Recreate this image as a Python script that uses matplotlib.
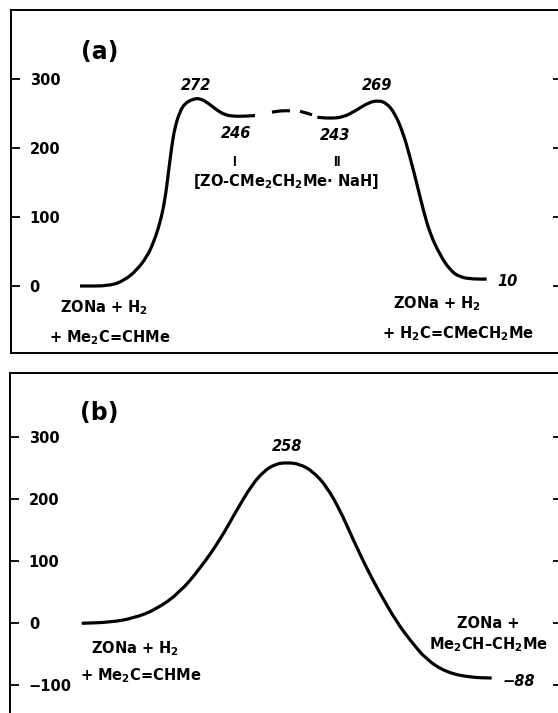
import matplotlib
matplotlib.use("Agg")
import matplotlib.pyplot as plt
from matplotlib.path import Path
from matplotlib.patches import PathPatch
import numpy as np

plt.rcParams['font.family'] = ['DejaVu Sans']
plt.rcParams['mathtext.fontset'] = 'custom'
plt.rcParams['mathtext.rm'] = 'DejaVu Sans:bold'
plt.rcParams['mathtext.it'] = 'DejaVu Sans:bold:italic'
plt.rcParams['mathtext.bf'] = 'DejaVu Sans:bold'
plt.rcParams['mathtext.default'] = 'rm'

# ---------------- data ----------------
# Panel (a): energy profile (reaction coordinate in arbitrary units, energy in kJ/mol)
a_rc1 = [69, 99, 114, 125.7, 135.7, 142.3, 149, 154, 157.3, 160.7, 164, 169, 174,
         182.3, 189, 197.3, 205.7, 214, 222.3, 232.3, 244]
a_e1 = [0, 0, 8.7, 23, 42, 62, 91, 125, 163, 202, 231, 253, 265,
        271, 272, 265, 255, 248, 246, 246, 247]
a_rc_dash1 = [261, 270, 279]
a_e_dash1 = [252, 254, 254]
a_rc_dash2 = [289, 295, 301]
a_e_dash2 = [253, 251, 248]
a_rc2 = [306.3, 319, 332.3, 345.7, 357.3, 367.3, 375.7, 384, 392.3, 399, 405.7,
         412.3, 419, 429, 439, 449, 462.3, 475.7]
a_e2 = [244.5, 243, 244.5, 255, 265.7, 269, 265, 250, 221, 187, 149,
        110, 76, 45, 23, 12.6, 10, 10]

# Panel (b)
b_rc = [71.7, 100, 123.3, 146.7, 170, 190, 210, 226.7, 241.7, 253.3, 265,
        276.7, 290, 303.3, 316.7, 330, 343.3, 356.7, 370, 386.7, 400, 416.7,
        436.7, 460, 481.7]
b_e = [0, 1.6, 8, 22.5, 50, 88, 134, 182, 222, 243.7, 256,
       258.5, 256, 243.7, 219.6, 182, 134, 88.4, 48, 2, -27, -59,
       -79, -87, -88]

yticks_a = [0, 100, 200, 300]
yticklabels_a = ['0', '100', '200', '300']
yticks_b = [-100, 0, 100, 200, 300]
yticklabels_b = ['\u2212100', '0', '100', '200', '300']


def smooth_curve(ax, xs, ys, lw):
    """Draw a smooth curve using the traced points as quadratic Bezier controls."""
    pts = np.column_stack([xs, ys]).astype(float)
    verts = [pts[0], (pts[0] + pts[1]) / 2]
    codes = [Path.MOVETO, Path.LINETO]
    for i in range(1, len(pts) - 1):
        verts += [pts[i], (pts[i] + pts[i + 1]) / 2]
        codes += [Path.CURVE3, Path.CURVE3]
    verts.append(pts[-1])
    codes.append(Path.LINETO)
    patch = PathPatch(Path(verts, codes), facecolor='none', edgecolor='black',
                      lw=lw, capstyle='butt', joinstyle='round')
    ax.add_patch(patch)


# ---------------- figure ----------------
W, H = 558, 713
fig = plt.figure(figsize=(W / 100, H / 100), dpi=100)

ax_a = fig.add_axes([11 / W, 1 - 353 / H, 551 / W, 343 / H])
ax_b = fig.add_axes([10 / W, 1 - 720 / H, 552 / W, 347 / H])

lw_curve = 2.3
for ax in (ax_a, ax_b):
    for s in ax.spines.values():
        s.set_linewidth(1.4)
    ax.set_xticks([])
    ax.tick_params(axis='y', direction='in', length=6.5, width=1.3,
                   left=True, right=True, pad=-13.5, labelsize=10.5)

# panel a
smooth_curve(ax_a, a_rc1, a_e1, lw_curve)
smooth_curve(ax_a, a_rc_dash1, a_e_dash1, lw_curve)
smooth_curve(ax_a, a_rc_dash2, a_e_dash2, lw_curve)
smooth_curve(ax_a, a_rc2, a_e2, lw_curve)
ax_a.set_xlim(0, 551)
ax_a.set_ylim(-97.1, 400)
ax_a.set_yticks(yticks_a)
ax_a.set_yticklabels(yticklabels_a, fontweight='bold', ha='left')

# panel b
smooth_curve(ax_b, b_rc, b_e, lw_curve)
ax_b.set_xlim(0, 552)
ax_b.set_ylim(-155.5, 402.4)
ax_b.set_yticks(yticks_b)
ax_b.set_yticklabels(yticklabels_b, fontweight='bold', ha='left')
ax_b.spines['bottom'].set_visible(False)

bold = dict(fontweight='bold', fontsize=10.5, color='black')
val = dict(fontweight='bold', fontstyle='italic', fontsize=10.5, color='black')

# panel a texts
ax_a.text(89, 339, '(a)', fontweight='bold', fontsize=17, ha='center', va='center')
ax_a.text(185, 291, '272', ha='center', va='center', **val)
ax_a.text(225, 221.7, '246', ha='center', va='center', **val)
ax_a.text(365.7, 291, '269', ha='center', va='center', **val)
ax_a.text(324, 218.8, '243', ha='center', va='center', **val)
ax_a.text(486, 7.2, '10', ha='left', va='center', **val)
ax_a.text(223, 179.7, 'I', ha='center', va='center', fontweight='bold',
          fontsize=10, family='Liberation Sans')
ax_a.text(326, 179.7, 'II', ha='center', va='center', fontweight='bold',
          fontsize=10, family='Liberation Sans')
ax_a.text(275, 152, '[ZO-CMe$_2$CH$_2$Me\u00b7 NaH]', ha='center', va='center', **bold)
ax_a.text(93, -38.4, 'ZONa + H$_2$', ha='center', va='baseline', **bold)
ax_a.text(99, -81.2, '+ Me$_2$C=CHMe', ha='center', va='baseline', **bold)
ax_a.text(426, -33, 'ZONa + H$_2$', ha='center', va='baseline', **bold)
ax_a.text(447.5, -76.5, '+ H$_2$C=CMeCH$_2$Me', ha='center', va='baseline', **bold)

# panel b texts
ax_b.text(89, 338, '(b)', fontweight='bold', fontsize=17, ha='center', va='center')
ax_b.text(277, 283.5, '258', ha='center', va='center', **val)
ax_b.text(125, -48.7, 'ZONa + H$_2$', ha='center', va='baseline', **bold)
ax_b.text(131, -91.6, '+ Me$_2$C=CHMe', ha='center', va='baseline', **bold)
ax_b.text(478, -7.6, 'ZONa +', ha='center', va='baseline', **bold)
ax_b.text(478, -42.3, 'Me$_2$CH\u2013CH$_2$Me', ha='center', va='baseline', **bold)
ax_b.text(492, -92.8, '\u221288', ha='left', va='center', **val)

fig.savefig('out.png', dpi=100)
